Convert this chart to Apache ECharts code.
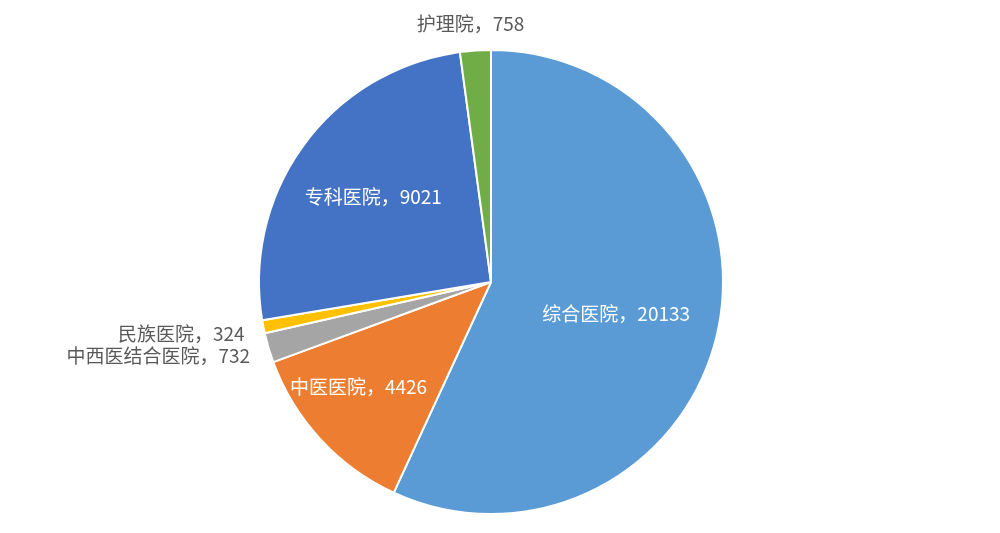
<!DOCTYPE html>
<html>
<head>
<meta charset="utf-8">
<script src="https://cdn.jsdelivr.net/npm/echarts@6/dist/echarts.min.js"></script>
<style>
  html, body { margin: 0; padding: 0; background: #fff; }
  #main { width: 1000px; height: 533px; }
</style>
</head>
<body>
<div id="main"></div>
<script>
// 医院类型及数量
const names = ['综合医院', '中医医院', '中西医结合医院', '民族医院', '专科医院', '护理院'];
const counts = [20133, 4426, 732, 324, 9021, 758];
const colors = ['#5B9BD5', '#ED7D31', '#A5A5A5', '#FFC000', '#4472C4', '#70AD47'];

// 标签放在里面还是外面
const insideNames = ['综合医院', '中医医院', '专科医院'];
// 标签微调（相对默认位置）
const labelShift = {
  '综合医院': { dx: 9, dy: 6 },
  '中医医院': { dx: -45, dy: 24 },
  '专科医院': { dx: -22, dy: -15 },
  '中西医结合医院': { dy: 4 },
  '民族医院': { dy: 4 },
  '护理院': { dx: 1, dy: -13, align: 'center' }
};

var chartDom = document.getElementById('main');
var myChart = echarts.init(chartDom);

var data = names.map(function (n, i) {
  var inside = insideNames.indexOf(n) >= 0;
  return {
    name: n,
    value: counts[i],
    itemStyle: { color: colors[i] },
    label: inside
      ? { position: 'inside', color: '#fff' }
      : { position: 'outside', color: '#595959' }
  };
});

var option = {
  animation: false,
  series: [
    {
      type: 'pie',
      center: [491, 282],
      radius: 232,
      startAngle: 90,
      clockwise: true,
      avoidLabelOverlap: false,
      data: data,
      itemStyle: {
        borderColor: '#fff',
        borderWidth: 2
      },
      label: {
        show: true,
        formatter: '{b}，{c}',
        fontSize: 19,
        fontFamily: 'Noto Sans CJK SC',
        distanceToLabelLine: 5
      },
      labelLine: {
        show: false,
        length: 14,
        length2: 0
      },
      labelLayout: function (params) {
        var s = labelShift[params.text.split('，')[0]];
        return s ? s : {};
      }
    }
  ]
};
myChart.setOption(option);
</script>
</body>
</html>
